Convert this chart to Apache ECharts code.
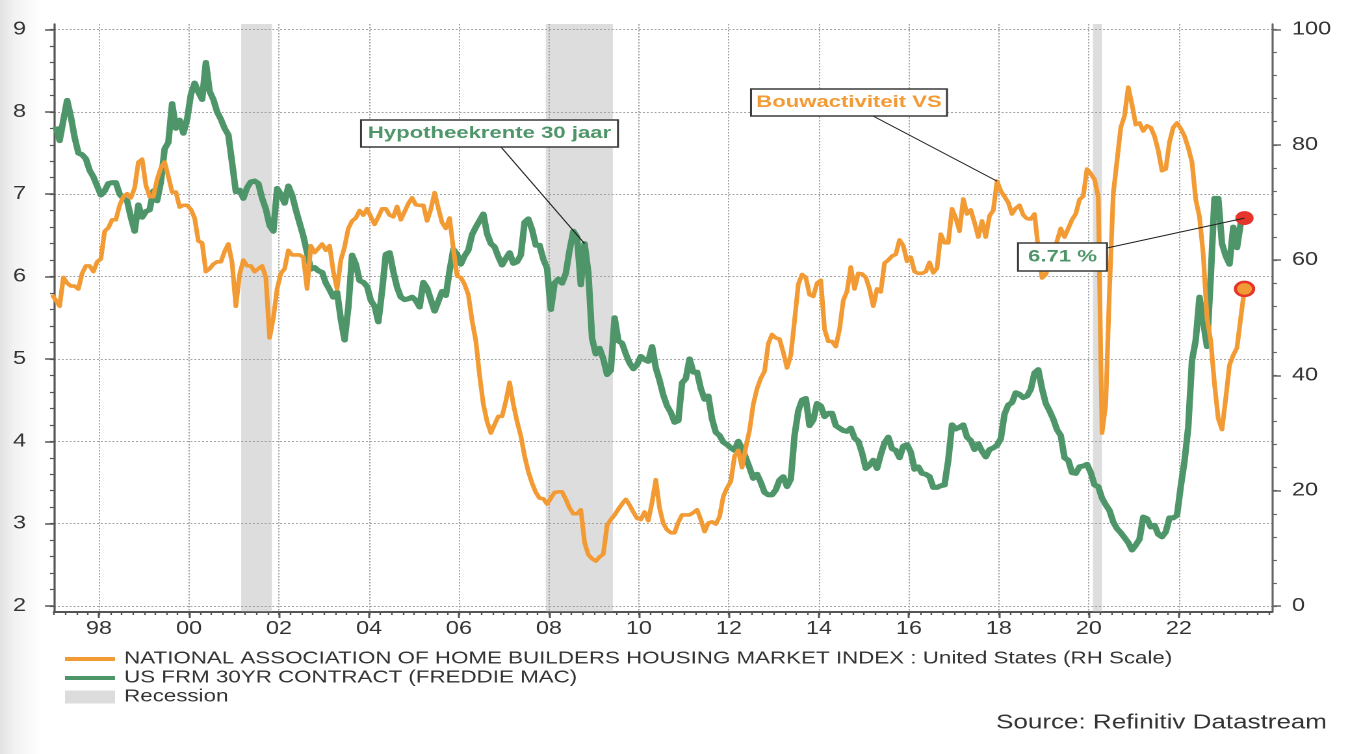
<!DOCTYPE html>
<html>
<head>
<meta charset="utf-8">
<script src="https://cdn.jsdelivr.net/npm/echarts@6.0.0/dist/echarts.min.js"></script>
<style>
html,body{margin:0;padding:0;background:#fff;}
#wrap{width:1348px;height:754px;overflow:hidden;position:relative;background:linear-gradient(to right,#e2e2e2 0px,#f2f2f2 14px,#ffffff 42px);}
#chart{position:absolute;left:0;top:0;width:1037px;height:754px;transform:scaleX(1.2999036);transform-origin:0 0;}
</style>
</head>
<body>
<div id="wrap"><div id="chart"></div></div>
<script>
// ---------------- DATA ----------------
const nahbName = 'NATIONAL ASSOCIATION OF HOME BUILDERS HOUSING MARKET INDEX : United States (RH Scale)';
const mortName = 'US FRM 30YR CONTRACT (FREDDIE MAC)';
const recessionName = 'Recession';
const sourceText = 'Source: Refinitiv Datastream';

// NAHB housing market index, monthly, first month = Dec 1996
const nahbStart = [1996, 12];
const nahbValues = [54,
 53,52,57,56,55.5,55.5,55,57.7,59,59,58,59.7,
 60.2,65,65.6,67,67,69.5,71,71.5,70.8,72.5,77,77.5,
 73,71,71,74,76,77,74.5,71.8,71.8,69.2,69.5,69.5,
 68.8,67.3,63.3,63,58,58.5,59.3,59.7,59.7,61.5,62.8,59.5,
 52,57.5,60,59,59,58,58.5,59,57,46.5,50,55,
 57.7,58.5,61.7,60.9,60.9,60.9,60.5,55,62.5,61.3,62,62.8,
 61.7,62.5,58,55,60,62.3,65.5,66.8,67.3,68.6,67.8,68.9,
 67.5,66.2,67.5,68.9,68.9,67.8,67.5,69.3,67,68.4,69.8,70.8,
 69.6,69.5,69.5,66.8,68.8,71.7,69,66.5,65.5,67.3,62,57.2,
 57,55.8,54,49.5,46,40,35,32,30,31.5,32.9,32.9,
 35.5,38.8,35,32,29.5,26,23.3,21.3,19.7,18.7,18.6,17.7,
 18.7,19.7,19.8,19.8,18.5,17,16,16,16.7,11,8.9,8.2,
 7.8,8.5,9,14,15,15.8,16.8,17.7,18.5,17.5,16.3,15.2,
 15,16.3,14.8,18,21.9,17,14.3,13.2,12.7,12.7,14.5,15.8,
 15.8,15.8,16.2,16.7,15,12.9,14.4,14.6,14.2,15.5,19,20.5,
 21.6,26,27,24,27.5,30.5,35,37.7,39.5,40.7,45.5,47.1,
 46.5,46.3,44,41.3,43.5,49.5,55.8,57.5,57,54,53.7,56,
 56.5,48,45.9,45.9,45,48,53,54.6,58.8,55,57.7,57.6,
 57,55,52,55,54.5,59.5,60,60.7,61,63.5,62.5,59.8,
 60.5,58,57.7,57.7,58,59.6,57.8,58.6,64.5,63,63,68.9,
 67.3,65,70.6,68,68.7,66.5,64,66.8,64,67.7,68.6,73.7,
 72,71,70,68,69,69.5,67.8,67.2,67.1,68,62,56.9,
 57.5,59.5,61,63.3,65.5,64,65.5,67,68,70.5,71.1,75.8,
 75,74,71,30,35,55,71.5,77.2,83,85,90,87,
 83.5,83.8,82.4,83.3,83,81.5,79,75.5,75.8,80.5,83,83.8,
 82.8,81.5,79.5,77,70.5,67.5,61,50,46,38.5,32.5,30.6,
 36,41.8,43.5,44.8,50,55];

// Freddie Mac 30yr mortgage rate, monthly, first month = Jan 1997
const mortStart = [1997, 1];
const mortValues = [
 7.82,7.65,7.90,8.14,7.94,7.69,7.50,7.48,7.43,7.29,7.21,7.10,
 6.99,7.04,7.13,7.14,7.14,7.00,6.95,6.92,6.72,6.55,6.87,6.72,
 6.79,6.81,7.04,6.92,7.15,7.55,7.63,8.10,7.80,7.90,7.74,7.91,
 8.21,8.35,8.24,8.15,8.60,8.25,8.15,8.00,7.91,7.80,7.72,7.38,
 7.03,7.05,6.95,7.08,7.15,7.16,7.13,6.95,6.82,6.62,6.55,7.07,
 7.00,6.89,7.10,6.99,6.81,6.65,6.49,6.29,6.09,6.11,6.07,6.05,
 5.92,5.84,5.75,5.81,5.48,5.23,5.63,6.26,6.15,5.95,5.93,5.88,
 5.71,5.64,5.45,5.83,6.27,6.29,6.06,5.87,5.75,5.72,5.73,5.75,
 5.71,5.63,5.93,5.86,5.72,5.58,5.70,5.82,5.77,6.07,6.33,6.27,
 6.15,6.25,6.32,6.51,6.60,6.68,6.76,6.52,6.40,6.36,6.24,6.14,
 6.22,6.29,6.16,6.18,6.26,6.66,6.70,6.57,6.38,6.38,6.21,6.10,
 5.60,5.92,5.97,5.92,6.04,6.32,6.55,6.48,5.90,6.40,6.05,5.25,
 5.06,5.13,5.00,4.81,4.86,5.50,5.22,5.19,5.06,4.95,4.88,4.93,
 5.03,4.99,4.97,5.15,4.89,4.74,4.56,4.43,4.35,4.23,4.25,4.71,
 4.76,5.00,4.84,4.84,4.64,4.51,4.55,4.27,4.11,4.07,3.99,3.96,
 3.92,3.89,4.00,3.91,3.80,3.68,3.55,3.60,3.50,3.38,3.35,3.35,
 3.41,3.53,3.57,3.45,3.54,4.07,4.37,4.50,4.52,4.19,4.26,4.46,
 4.43,4.30,4.34,4.34,4.19,4.16,4.13,4.12,4.16,4.04,4.00,3.86,
 3.67,3.71,3.77,3.67,3.84,3.98,4.05,3.91,3.89,3.80,3.94,3.96,
 3.87,3.66,3.69,3.61,3.60,3.57,3.44,3.44,3.46,3.47,3.77,4.20,
 4.15,4.17,4.20,4.05,4.01,3.90,3.97,3.88,3.81,3.90,3.92,3.95,
 4.03,4.33,4.44,4.47,4.59,4.57,4.53,4.55,4.63,4.83,4.87,4.64,
 4.46,4.37,4.27,4.14,4.07,3.80,3.77,3.62,3.61,3.69,3.70,3.72,
 3.62,3.47,3.45,3.31,3.23,3.16,3.02,2.94,2.89,2.83,2.77,2.68,
 2.74,2.81,3.08,3.06,2.96,2.98,2.87,2.84,2.90,3.07,3.07,3.10,
 3.45,3.76,4.17,4.98,5.23,5.75,5.45,5.15,6.00,6.95,6.95,6.40,
 6.25,6.15,6.60,6.35,6.65,6.71];

// Recession periods (decimal years)
const recessions = [[2001.16, 2001.84], [2007.93, 2009.42], [2020.09, 2020.29]];

// Tick labels
const xYearTicks = [1998, 2000, 2002, 2004, 2006, 2008, 2010, 2012, 2014, 2016, 2018, 2020, 2022];
const leftTicks = [2, 3, 4, 5, 6, 7, 8, 9];
const rightTicks = [0, 20, 40, 60, 80, 100];

// Annotation texts and the data month they point to
const hypoText = 'Hypotheekrente 30 jaar';
const hypoMonth = [2008, 10];
const bouwText = 'Bouwactiviteit VS';
const bouwMonth = [2017, 12];

// ---------------- LAYOUT / STYLE ----------------
const S = 1348 / 1037;            // horizontal stretch of the picture
const sx = v => v / S;            // reference-pixel x distance -> chart px
const FONT = '"Liberation Sans", Arial, Helvetica, sans-serif';
const ORANGE = '#F29B34', GREEN = '#4E9669', RED = '#E6352A';
const GRIDC = '#a2a2a2', AXC = '#555555', TXT = '#333333';

const L_MIN = 2 - 6 / 82.36, L_MAX = 9 + 5.5 / 82.36;
const R_MIN = (L_MIN - 2) * 100 / 7, R_MAX = (L_MAX - 2) * 100 / 7;
const X_MIN = 1997, X_MAX = 2024.07;

const xMinor = []; for (let q = 0; q <= 108; q++) xMinor.push(1997 + q * 0.25);
const leftMinor = []; for (let i = 0; i <= 35; i++) leftMinor.push(Math.round((2 + i * 0.2) * 10) / 10);
const rightMinor = []; for (let i = 0; i <= 25; i++) rightMinor.push(i * 4);

function monthly(start, values) {
  return values.map((v, i) => [start[0] + (start[1] - 1 + i + 0.5) / 12, v]);
}
function monthIndex(start, ym) { return (ym[0] - start[0]) * 12 + (ym[1] - start[1]); }

const nahbData = monthly(nahbStart, nahbValues);
const mortData = monthly(mortStart, mortValues);
const nahbLast = nahbData[nahbData.length - 1];
const mortLast = mortData[mortData.length - 1];
const lastText = mortValues[mortValues.length - 1].toFixed(2) + ' %';

const chart = echarts.init(document.getElementById('chart'), null, {renderer: 'canvas', devicePixelRatio: 2});

const splitStyle = {color: GRIDC, width: 1, type: [1.5, 1.5]};

const option = {
  animation: false,
  textStyle: {fontFamily: FONT},
  grid: {left: sx(54), right: sx(76), top: 24, bottom: 142, containLabel: false, outerBoundsMode: 'none'},
  title: {
    text: sourceText, right: sx(21), top: 713, padding: 0,
    textStyle: {fontSize: 20, fontWeight: 'normal', color: TXT, fontFamily: FONT}
  },
  legend: [
    {
      data: [{name: nahbName, icon: 'rect'}, {name: mortName, icon: 'rect'}],
      orient: 'vertical', left: sx(65), top: 649.5, padding: 0,
      itemWidth: sx(50), itemHeight: 4, itemGap: 0, selectedMode: false,
      itemStyle: {borderWidth: 0},
      textStyle: {fontSize: 17.2, color: TXT, lineHeight: 19, padding: [0, 0, 0, 2], fontFamily: FONT}
    },
    {
      data: [{name: recessionName, icon: 'rect', itemStyle: {color: '#DCDCDC'}}],
      orient: 'vertical', left: sx(65), top: 687.5, padding: 0,
      itemWidth: sx(50), itemHeight: 13, itemGap: 0, selectedMode: false,
      itemStyle: {borderWidth: 0},
      textStyle: {fontSize: 17.2, color: TXT, lineHeight: 19, padding: [0, 0, 0, 2], fontFamily: FONT}
    }
  ],
  xAxis: [
    {
      type: 'value', min: X_MIN, max: X_MAX, position: 'bottom',
      axisLine: {show: true, onZero: false, lineStyle: {color: AXC, width: 2}},
      axisTick: {show: true, customValues: xYearTicks, length: 6, lineStyle: {color: AXC, width: 1.5}},
      axisLabel: {customValues: xYearTicks, formatter: v => String(Math.round(v) % 100).padStart(2, '0'),
                  margin: 8, fontSize: 18, color: TXT, fontFamily: FONT},
      splitLine: {show: true, lineStyle: splitStyle}
    },
    {
      type: 'value', min: X_MIN, max: X_MAX, position: 'bottom',
      axisLine: {show: false, onZero: false},
      axisTick: {show: true, customValues: xMinor, length: 3, lineStyle: {color: AXC, width: 1.2}},
      axisLabel: {show: false}, splitLine: {show: false}
    }
  ],
  yAxis: [
    {
      type: 'value', min: L_MIN, max: L_MAX, position: 'left',
      axisLine: {show: true, onZero: false, lineStyle: {color: AXC, width: 1.6}},
      axisTick: {show: true, customValues: leftTicks, length: sx(9), lineStyle: {color: AXC, width: 1.5}},
      axisLabel: {customValues: leftTicks, margin: sx(28), fontSize: 18, color: TXT, fontFamily: FONT},
      splitLine: {show: true, lineStyle: splitStyle}
    },
    {
      type: 'value', min: R_MIN, max: R_MAX, position: 'right',
      axisLine: {show: true, onZero: false, lineStyle: {color: '#666', width: 1.6}},
      axisTick: {show: true, customValues: rightTicks, length: sx(9), lineStyle: {color: '#666', width: 1.5}},
      axisLabel: {customValues: rightTicks, margin: sx(20), fontSize: 18, color: TXT, fontFamily: FONT},
      splitLine: {show: false}
    },
    {
      type: 'value', min: L_MIN, max: L_MAX, position: 'left',
      axisLine: {show: false, onZero: false},
      axisTick: {show: true, customValues: leftMinor, length: sx(4), lineStyle: {color: AXC, width: 1.2}},
      axisLabel: {show: false}, splitLine: {show: false}
    },
    {
      type: 'value', min: R_MIN, max: R_MAX, position: 'right',
      axisLine: {show: false, onZero: false},
      axisTick: {show: true, customValues: rightMinor, length: sx(5), lineStyle: {color: '#666', width: 1.2}},
      axisLabel: {show: false}, splitLine: {show: false}
    }
  ],
  series: [
    {
      name: recessionName, type: 'line', data: [], xAxisIndex: 0, yAxisIndex: 0, z: 1,
      color: '#DCDCDC', silent: true,
      markArea: {
        silent: true,
        itemStyle: {color: 'rgba(160,160,160,0.36)'},
        data: recessions.map(r => [{xAxis: r[0]}, {xAxis: r[1]}])
      }
    },
    {
      name: mortName, type: 'line', data: mortData, xAxisIndex: 0, yAxisIndex: 0, z: 3,
      showSymbol: false, symbol: 'none', color: GREEN,
      lineStyle: {color: GREEN, width: 5, join: 'round'},
      markPoint: {
        silent: true, label: {show: false},
        data: [{coord: mortLast, symbol: 'circle', symbolSize: 14, itemStyle: {color: RED}}]
      }
    },
    {
      name: nahbName, type: 'line', data: nahbData, xAxisIndex: 0, yAxisIndex: 1, z: 4,
      showSymbol: false, symbol: 'none', color: ORANGE,
      lineStyle: {color: ORANGE, width: 3.6, join: 'round'},
      markPoint: {
        silent: true, label: {show: false},
        data: [{coord: nahbLast, symbol: 'circle', symbolSize: 14,
                itemStyle: {color: ORANGE, borderColor: RED, borderWidth: 2.5}}]
      }
    }
  ]
};
chart.setOption(option);

// ---------------- ANNOTATIONS ----------------
const annots = [
  {text: hypoText, color: GREEN, axis: 0, point: mortData[monthIndex(mortStart, hypoMonth)],
   box: [361, 120, 257, 27], from: [501, 147]},
  {text: bouwText, color: ORANGE, axis: 1, point: nahbData[monthIndex(nahbStart, bouwMonth)],
   box: [751, 89, 196, 27], from: [873, 116]},
  {text: lastText, color: GREEN, axis: 0, point: mortLast,
   box: [1018, 243, 89, 28], from: [1107, 248]}
];
const g = [];
annots.forEach((a, i) => {
  const end = chart.convertToPixel({xAxisIndex: 0, yAxisIndex: a.axis}, a.point);
  const [bx, by, bw, bh] = a.box;
  g.push({type: 'line', id: 'l' + i, z: 50, silent: true,
          shape: {x1: sx(a.from[0]), y1: a.from[1], x2: end[0], y2: end[1]},
          style: {stroke: '#222', lineWidth: 1}});
  g.push({type: 'rect', id: 'r' + i, z: 51, silent: true,
          shape: {x: sx(bx), y: by, width: sx(bw), height: bh},
          style: {fill: '#fff', stroke: '#3a3a3a', lineWidth: 1.5}});
  g.push({type: 'text', id: 't' + i, z: 52, silent: true,
          x: sx(bx + bw / 2), y: by + bh / 2,
          style: {text: a.text, fill: a.color, font: 'bold 17px ' + FONT, align: 'center', verticalAlign: 'middle'}});
});
chart.setOption({graphic: g});
</script>
</body>
</html>
